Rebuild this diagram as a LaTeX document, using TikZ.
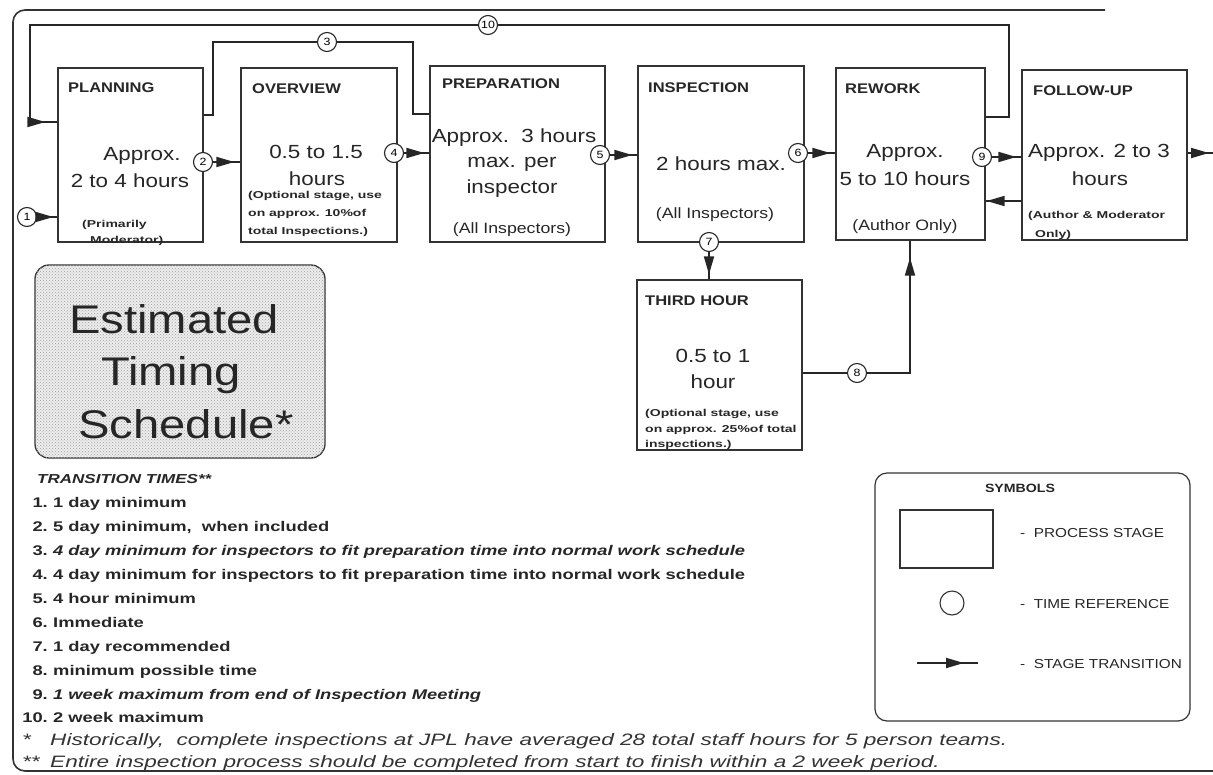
\documentclass[tikz,border=0pt]{standalone}
\usepackage{fontspec}
\setmainfont{Liberation Sans}[FakeStretch=1.18]
\newfontfamily\listfont{Liberation Sans}[FakeStretch=1.31]
\newfontfamily\notefont{Liberation Sans}[FakeStretch=1.4]
\newfontfamily\footfont{Liberation Sans}[FakeStretch=1.37]
\usetikzlibrary{arrows.meta,decorations.markings,patterns}
\tikzset{
 stage/.style={draw=black!80, line width=1.3pt, inner sep=0pt},
 tref/.style={draw=black!85, circle, fill=white, line width=1.1pt, inner sep=0pt, minimum size=19pt, font=\fontsize{10.5}{10.5}\selectfont},
 conn/.style={draw=black!85, line width=1.8pt},
 tarrow/.style={postaction={decorate}, decoration={markings, mark=at position #1 with {\arrow{Triangle[length=18pt,width=10pt]}}}},
 ttl/.style={anchor=base west, inner sep=0pt, font=\fontsize{14}{14}\selectfont\bfseries, text=black!85},
 big/.style={anchor=base, inner sep=0pt, font=\fontsize{19}{19}\selectfont, text=black!85},
 note/.style={anchor=base west, inner sep=0pt, font=\notefont\fontsize{10}{10}\selectfont\bfseries, text=black!85},
 mid/.style={anchor=base, inner sep=0pt, font=\fontsize{15}{15}\selectfont, text=black!85},
 lnum/.style={anchor=base east, inner sep=0pt, font=\listfont\fontsize{14}{14}\selectfont\bfseries, text=black!85},
 ltxt/.style={anchor=base west, inner sep=0pt, font=\listfont\fontsize{14}{14}\selectfont\bfseries, text=black!85},
 foot/.style={anchor=base west, inner sep=0pt, font=\footfont\fontsize{16.5}{16.5}\selectfont\itshape, text=black!80},
 legtxt/.style={anchor=base west, inner sep=0pt, font=\fontsize{13}{13}\selectfont, text=black!85},
}
\newcommand\litem[4]{\node[lnum] (n#1) at (48,#2) {#3.}; \node[ltxt] (t#1) at (53,#2) {#4};}
\begin{document}
\begin{tikzpicture}[x=1pt,y=-1pt]
\useasboundingbox (0,0) rectangle (1213,774);
% outer frame
\draw[black!80, line width=1.6pt, rounded corners=12pt] (1105,10) -- (13,10) -- (13,771) -- (1213,771);

% stages
\node[stage, minimum width=145pt, minimum height=174pt] (plan) at (130.5,155) {};
\node[stage, minimum width=156pt, minimum height=174pt] (over) at (319,155) {};
\node[stage, minimum width=175pt, minimum height=176pt] (prep) at (517.5,154) {};
\node[stage, minimum width=166pt, minimum height=176pt] (insp) at (721,154) {};
\node[stage, minimum width=149pt, minimum height=172pt] (rew) at (910.5,154) {};
\node[stage, minimum width=165pt, minimum height=170pt] (fu) at (1104.5,155) {};
\node[stage, minimum width=165pt, minimum height=170pt] (third) at (719.5,365) {};

% stage texts
\node[ttl] (tplan) at (68,92) {PLANNING};
\node[big] (bplan1) at (142,160) {Approx.};
\node[big] (bplan2) at (130,187) {2 to 4 hours};
\node[note] (nplan1) at (82,227) {(Primarily};
\node[note] (nplan2) at (90,243) {Moderator)};

\node[ttl] (tover) at (252,93) {OVERVIEW};
\node[big] (bover1) at (316,158) {0.5 to 1.5};
\node[big] (bover2) at (317,185) {hours};
\node[note] (nover1) at (248,198) {(Optional stage, use};
\node[note] (nover2) at (248,216) {on approx. 10\%of};
\node[note] (nover3) at (248,234) {total Inspections.)};

\node[ttl] (tprep) at (442,88) {PREPARATION};
\node[big] (bprep1) at (514,142) {Approx.~~3 hours};
\node[big] (bprep2) at (512,167) {max. per};
\node[big] (bprep3) at (512,193) {inspector};
\node[mid] (nprep) at (512,233) {(All Inspectors)};

\node[ttl] (tinsp) at (648,92) {INSPECTION};
\node[big] (binsp) at (721,170) {2 hours max.};
\node[mid] (ninsp) at (715,218) {(All Inspectors)};

\node[ttl] (trew) at (845,93) {REWORK};
\node[big] (brew1) at (905,157) {Approx.};
\node[big] (brew2) at (905,185) {5 to 10 hours};
\node[mid] (nrew) at (905,230) {(Author Only)};

\node[ttl] (tfu) at (1033,95) {FOLLOW-UP};
\node[big] (bfu1) at (1099,157) {Approx. 2 to 3};
\node[big] (bfu2) at (1100,185) {hours};
\node[note] (nfu1) at (1028,218) {(Author \& Moderator};
\node[note] (nfu2) at (1035,237) {Only)};

\node[ttl] (tthird) at (645,305) {THIRD HOUR};
\node[big] (bthird1) at (713,362) {0.5 to 1};
\node[big] (bthird2) at (713,388) {hour};
\node[note] (nthird1) at (645,416) {(Optional stage, use};
\node[note] (nthird2) at (645,432) {on approx. 25\%of total};
\node[note] (nthird3) at (645,447) {inspections.)};

% time references
\node[tref] (c1) at (27,217) {1};
\node[tref] (c2) at (203,162) {2};
\node[tref] (c3) at (327,42) {3};
\node[tref] (c4) at (394,153) {4};
\node[tref] (c5) at (600,155) {5};
\node[tref] (c6) at (798,153) {6};
\node[tref] (c7) at (709,242) {7};
\node[tref] (c8) at (857,373) {8};
\node[tref] (c9) at (982,157) {9};
\node[tref] (c10) at (488,25) {10};

% bends
\coordinate (p3a) at (213,115);
\coordinate (p3b) at (213,42);
\coordinate (p3c) at (413,42);
\coordinate (p3d) at (413,114);
\coordinate (p10a) at (1009,117);
\coordinate (p10b) at (1009,25);
\coordinate (p10c) at (30,25);
\coordinate (p10d) at (30,122);
\coordinate (p8a) at (910,373);
\coordinate (pfb) at (1022,201);
\coordinate (out) at (1213,153);

% transitions
\draw[conn, tarrow=-4pt] (c1) -- (c1 -| plan.west);
\draw[conn, tarrow=-6pt] (c2) -- (c2 -| over.west);
\draw[conn, tarrow=-5pt] (c4) -- (c4 -| prep.west);
\draw[conn, tarrow=-5pt] (c5) -- (c5 -| insp.west);
\draw[conn, tarrow=-5pt] (c6) -- (c6 -| rew.west);
\draw[conn, tarrow=-5pt] (c9) -- (c9 -| fu.west);
\draw[conn, tarrow=-5pt] (c7) -- (c7 |- third.north);
\draw[conn] (plan.east |- p3a) -- (p3a) -- (p3b) -- (c3);
\draw[conn] (c3) -- (p3c) -- (p3d) -- (prep.west |- p3d);
\draw[conn] (rew.east |- p10a) -- (p10a) -- (p10b) -- (c10);
\draw[conn, tarrow=-12pt] (c10) -- (p10c) -- (p10d) -- (plan.west |- p10d);
\draw[conn] (third.east |- c8) -- (c8);
\draw[conn, tarrow=-17pt] (c8) -- (p8a) -- (rew.south -| p8a);
\draw[conn, tarrow=-1pt] (fu.west |- pfb) -- (rew.east |- pfb);
\draw[conn, tarrow=-4pt] (fu.east |- out) -- (out);

% title box
\node[draw=black!80, line width=1.3pt, rounded corners=14pt, fill=gray!14, postaction={pattern=crosshatch dots, pattern color=gray!75}, minimum width=290pt, minimum height=193pt, inner sep=0pt] (est) at (180,361.5) {};
\node[anchor=base, inner sep=0pt, font=\fontsize{40}{40}\selectfont, text=black!85] (e1) at (174,333) {Estimated};
\node[anchor=base, inner sep=0pt, font=\fontsize{40}{40}\selectfont, text=black!85] (e2) at (171,385) {Timing};
\node[anchor=base, inner sep=0pt, font=\fontsize{40}{40}\selectfont, text=black!85] (e3) at (186,438) {Schedule*};

% transition times
\node[anchor=base west, inner sep=0pt, font=\listfont\fontsize{13}{13}\selectfont\bfseries\itshape, text=black!85] (thead) at (37,483) {TRANSITION TIMES**};
\litem{i1}{507}{1}{1 day minimum}
\litem{i2}{531}{2}{5 day minimum,~~when included}
\litem{i3}{555}{3}{\itshape 4 day minimum for inspectors to fit preparation time into normal work schedule}
\litem{i4}{579}{4}{4 day minimum for inspectors to fit preparation time into normal work schedule}
\litem{i5}{603}{5}{4 hour minimum}
\litem{i6}{627}{6}{Immediate}
\litem{i7}{651}{7}{1 day recommended}
\litem{i8}{675}{8}{minimum possible time}
\litem{i9}{699}{9}{\itshape 1 week maximum from end of Inspection Meeting}
\litem{i10}{722}{10}{2 week maximum}

\node[foot] (f1s) at (22,745) {*};
\node[foot] (f1) at (50,745) {Historically,~~complete inspections at JPL have averaged 28 total staff hours for 5 person teams.};
\node[foot] (f2s) at (22,767) {**};
\node[foot] (f2) at (50,767) {Entire inspection process should be completed from start to finish within a 2 week period.};

% symbols legend
\node[draw=black!80, line width=1.2pt, rounded corners=12pt, minimum width=315pt, minimum height=248pt, inner sep=0pt] (symbox) at (1032.5,597) {};
\node[anchor=base, inner sep=0pt, font=\fontsize{12}{12}\selectfont\bfseries, text=black!85] (symt) at (1020,492) {SYMBOLS};
\node[stage, line width=1.2pt, minimum width=93pt, minimum height=58pt] (symstage) at (946.5,539) {};
\node[legtxt] (l1) at (1020,537) {-~~PROCESS STAGE};
\node[draw=black!80, circle, line width=1.1pt, minimum size=24pt, inner sep=0pt] (symref) at (952,603) {};
\node[legtxt] (l2) at (1020,608) {-~~TIME REFERENCE};
\coordinate (syma) at (917,663);
\coordinate (symb) at (978,663);
\draw[conn, tarrow=-14pt] (syma) -- (symb);
\node[legtxt] (l3) at (1020,668) {-~~STAGE TRANSITION};
\end{tikzpicture}
\end{document}
